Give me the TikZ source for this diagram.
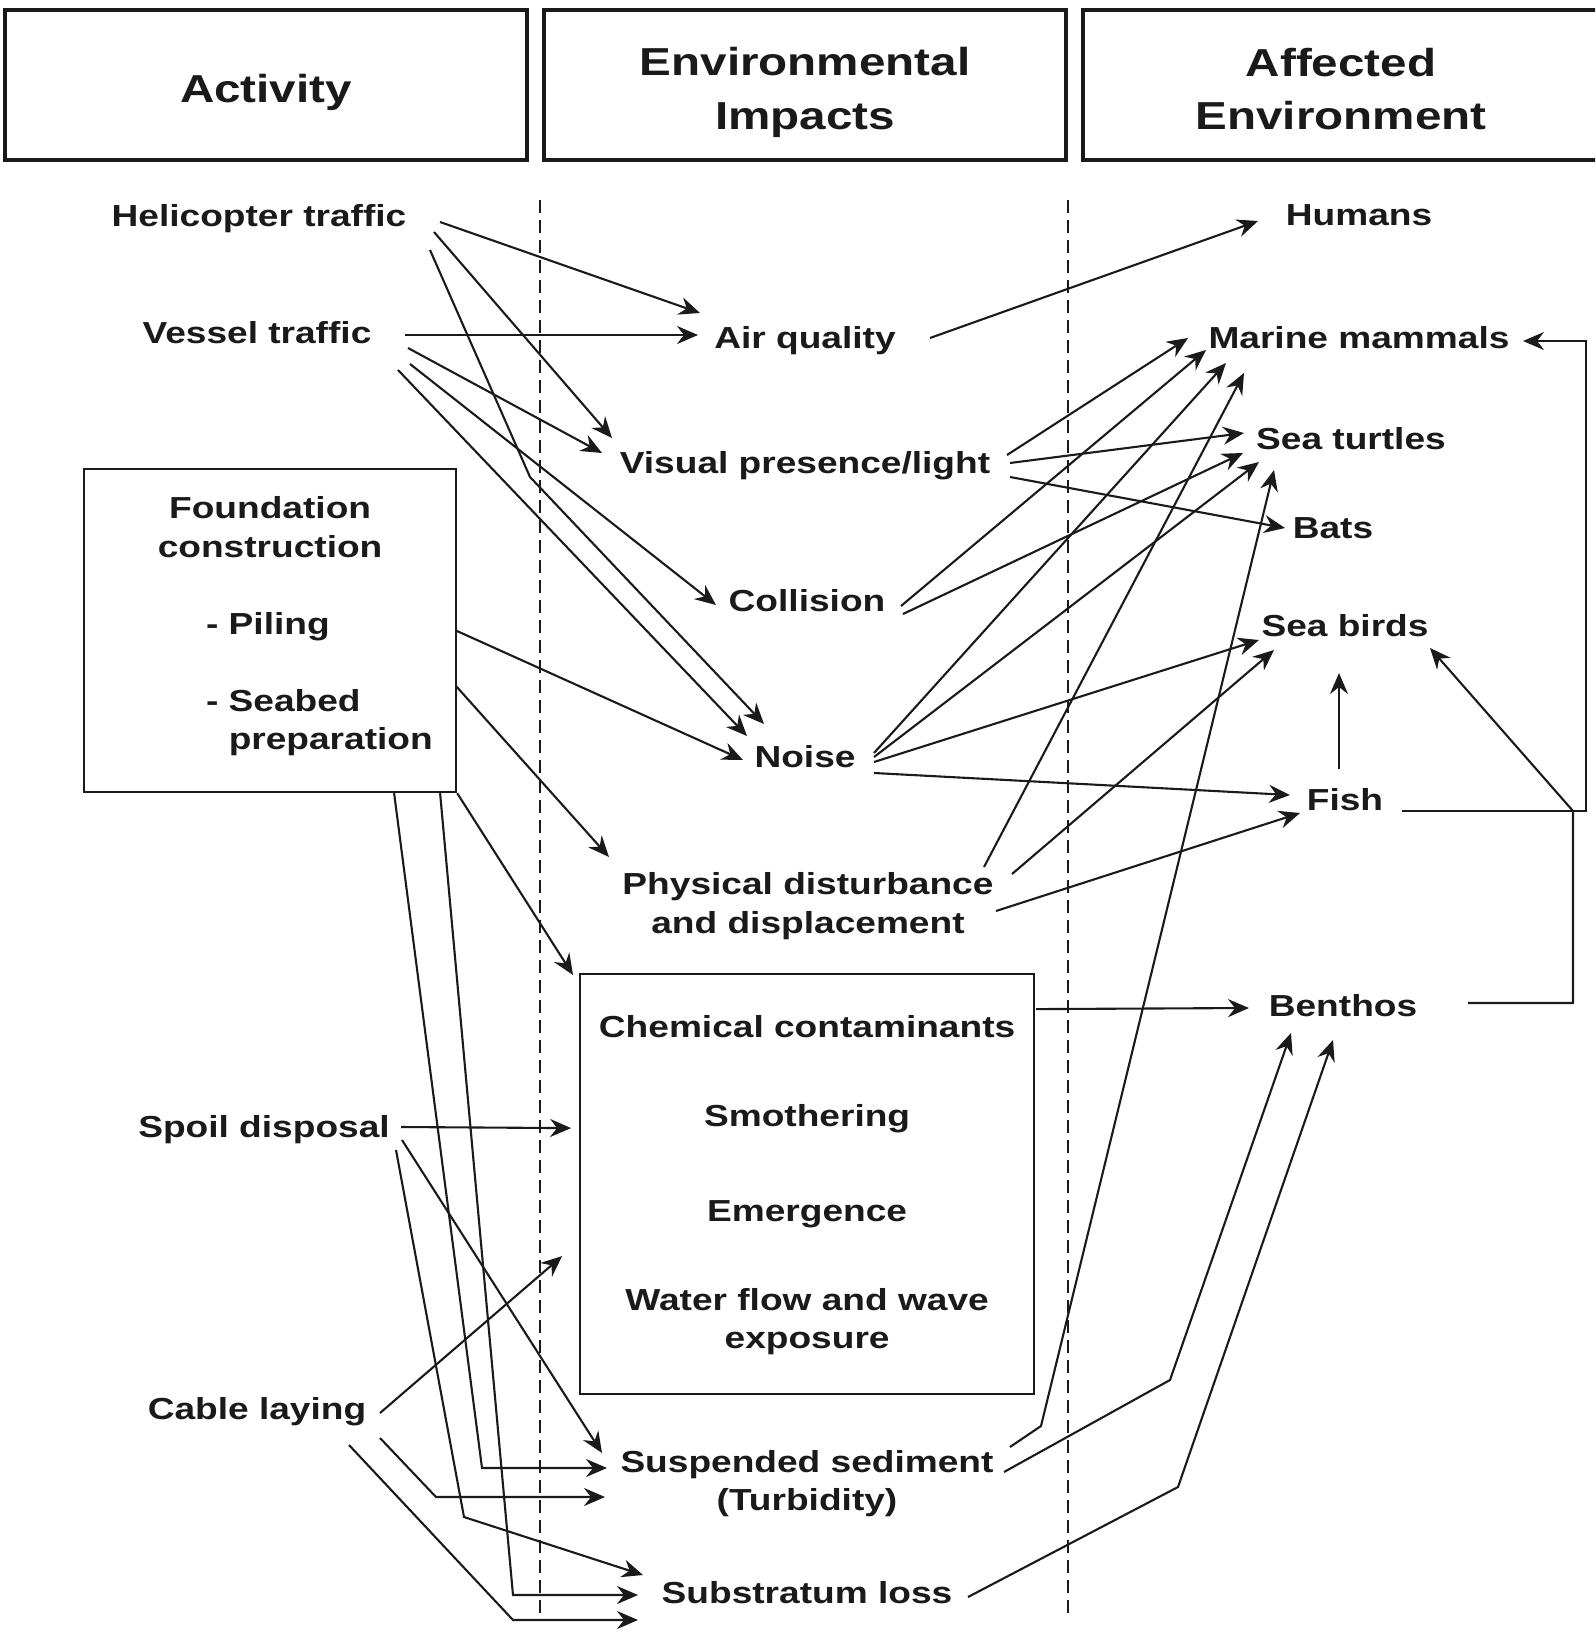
\documentclass[tikz,border=0pt]{standalone}
\usepackage{fontspec}
\newfontfamily\lblfont[FakeStretch=1.22]{Liberation Sans}
\usetikzlibrary{arrows.meta,calc}
\definecolor{ink}{HTML}{1A1A1A}
% struts that fix the height and depth of every text line
\newcommand{\bst}{\rule[-3.2pt]{0pt}{17.25pt}}
\newcommand{\hst}{\rule[-4pt]{0pt}{25.96pt}}

\begin{document}
\begin{tikzpicture}[x=0.5pt,y=-0.5pt,
  lbl/.style={font=\lblfont\bfseries\fontsize{15.2}{19.25}\selectfont, text=ink, inner sep=0pt},
  one/.style={lbl, text height=14.05pt, text depth=3.2pt},
  two/.style={lbl, align=center},
  hdr/.style={draw=ink, line width=1.8pt, inner sep=0pt, text=ink, align=center,
              font=\lblfont\bfseries\fontsize{19.5}{25}\selectfont,
              minimum height=75pt},
  box/.style={draw=ink, line width=1.1pt, inner sep=0pt},
  link/.style={draw=ink, line width=1.05pt, line join=miter,
               -{Stealth[length=10.5pt,width=9pt,inset=3.5pt]}},
  sep/.style={draw=ink, line width=1pt, dash pattern=on 6.5pt off 3.5pt}]

\path[use as bounding box] (0,0) rectangle (1595,1632);
\fill[white] (0,0) rectangle (1595,1632);
\clip (0,0) rectangle (1595,1632);

% column headings
\node[hdr, minimum width=261pt] (hAct) at (266,85) {\hst Activity};
\node[hdr, minimum width=261pt] (hImp) at (805,85) {\hst Environmental\\\hst Impacts};
\node[hdr, minimum width=258pt] (hEnv) at (1341,85) {\hst Affected\\\hst Environment};

% column separators
\draw[sep] (540,200) -- (540,1615);
\draw[sep] (1068,200) -- (1068,1615);

% activities
\node[one] (heli)   at (259,216)  {Helicopter traffic};
\node[one] (vessel) at (257,333)  {Vessel traffic};
\node[box, lbl, anchor=north west] (found) at (83,468) {\parbox[c][161.5pt][t]{186pt}{\vspace*{10.65pt}%
  \makebox[186pt]{\bst Foundation}\\
  \makebox[186pt]{\bst construction}\\[19.25pt]
  \makebox[186pt][l]{\hspace*{61pt}\bst - Piling}\\[19.25pt]
  \makebox[186pt][l]{\hspace*{61pt}\bst - Seabed}\\
  \makebox[186pt][l]{\hspace*{61pt}\phantom{- }\bst preparation}}};
\node[one] (spoil)  at (264,1127) {Spoil disposal};
\node[one] (cable)  at (257,1409) {Cable laying};

% environmental impacts
\node[one] (air)    at (805,338)  {Air quality};
\node[one] (visual) at (805,463)  {Visual presence/light};
\node[one] (coll)   at (807,601)  {Collision};
\node[one] (noise)  at (805,757)  {Noise};
\node[two] (phys)   at (808,903)  {\bst Physical disturbance\\\bst and displacement};
\node[box, lbl, anchor=north west] (chem) at (579,973) {\parbox[c][210pt][t]{227pt}{\vspace*{17.65pt}\centering
  \bst Chemical contaminants\\[25pt]
  \bst Smothering\\[28.65pt]
  \bst Emergence\\[25pt]
  \bst Water flow and wave\\
  \bst exposure}};
\node[two] (susp)   at (807,1480.5) {\bst Suspended sediment\\\bst (Turbidity)};
\node[one] (subst)  at (807,1593) {Substratum loss};

% affected environment
\node[one] (humans)  at (1359,215)  {Humans};
\node[one] (mm)      at (1359,338)  {Marine mammals};
\node[one] (turt)    at (1351,439)  {Sea turtles};
\node[one] (bats)    at (1333,528)  {Bats};
\node[one] (birds)   at (1345,626)  {Sea birds};
\node[one] (fish)    at (1345,800)  {Fish};
\node[one] (benthos) at (1343,1006) {Benthos};

% activity -> impact
\draw[link] ($(heli)+(181,6)$) -- ($(air)+(-105,-25)$);
\draw[link] ($(heli)+(175,16)$) -- ($(visual)+(-193,-25)$);
\draw[link] ($(heli)+(171,34)$) -- (530,477) -- ($(noise)+(-41,-33)$);
\draw[link] ($(vessel)+(148,2)$) -- ($(air)+(-107,-3)$);
\draw[link] ($(vessel)+(151,15)$) -- ($(visual)+(-203,-10)$);
\draw[link] ($(vessel)+(153,31)$) -- ($(coll)+(-91,4)$);
\draw[link] ($(vessel)+(141,37)$) -- ($(noise)+(-58,-21)$);
\draw[link] ($(found)+(186,0)$) -- ($(noise)+(-62,3)$);
\draw[link] ($(found)+(186,55.5)$) -- ($(phys)+(-199,-46)$);
\draw[link] (found.south east) -- ($(chem.north west)+(-6,2)$);
\draw[link] ($(found.south)+(124,0)$) -- (482,1468) -- ($(susp)+(-200,-12.5)$);
\draw[link] ($(found.south)+(170,0)$) -- (513,1595) -- ($(subst)+(-169,2)$);
\draw[link] ($(spoil)+(137,0)$) -- ($(chem)+(-236,-56)$);
\draw[link] ($(spoil)+(138,13)$) -- ($(susp)+(-205,-27.5)$);
\draw[link] ($(spoil)+(132,23)$) -- (464,1517) -- ($(subst)+(-164,-18)$);
\draw[link] ($(cable)+(123,4)$) -- ($(chem)+(-245,72)$);
\draw[link] ($(cable)+(123,29)$) -- (436,1497) -- ($(susp)+(-202,16.5)$);
\draw[link] ($(cable)+(92,36)$) -- (513,1620) -- ($(subst)+(-169,27)$);

% impact -> affected environment
\draw[link] ($(air)+(125,0)$) -- ($(humans)+(-101,6)$);
\draw[link] ($(visual)+(202,-8)$) -- ($(mm)+(-171,0)$);
\draw[link] ($(visual)+(205,0)$) -- ($(turt)+(-107,-6)$);
\draw[link] ($(visual)+(205,14)$) -- ($(bats)+(-48,0)$);
\draw[link] ($(coll)+(94,5)$) -- ($(mm)+(-153,12)$);
\draw[link] ($(coll)+(96,13)$) -- ($(turt)+(-108,14)$);
\draw[link] ($(noise)+(69,-4)$) -- ($(mm)+(-133,25)$);
\draw[link] ($(noise)+(69,0)$) -- ($(turt)+(-92,23)$);
\draw[link] ($(noise)+(69,5)$) -- ($(birds)+(-86,14)$);
\draw[link] ($(noise)+(69,16)$) -- ($(fish)+(-55,-5)$);
\draw[link] ($(phys)+(176,-36)$) -- ($(mm)+(-115,35)$);
\draw[link] ($(phys)+(204,-29)$) -- ($(birds)+(-71,24)$);
\draw[link] ($(phys)+(188,8)$) -- ($(fish)+(-45,13)$);
\draw[link] ($(chem)+(229,-175)$) -- ($(benthos)+(-94,2)$);
\draw[link] ($(susp)+(203,-33.5)$) -- (1041,1426) -- ($(turt)+(-77,31)$);
\draw[link] ($(susp)+(197,-8.5)$) -- (1170,1380) -- ($(benthos)+(-52,27)$);
\draw[link] ($(subst)+(161,4)$) -- (1178,1487) -- ($(benthos)+(-10,34)$);

% links within the affected environment
\draw[link] ($(fish)+(57,11)$) -- (1586,811) -- (1586,341) -- ($(mm)+(164,3)$);
\draw[link] ($(fish)+(-6,-31)$) -- ($(birds)+(-6,47)$);
\draw[link] ($(benthos)+(125,-3)$) -- (1573,1003) -- (1573,811) -- ($(birds)+(85,22)$);
\end{tikzpicture}
\end{document}
